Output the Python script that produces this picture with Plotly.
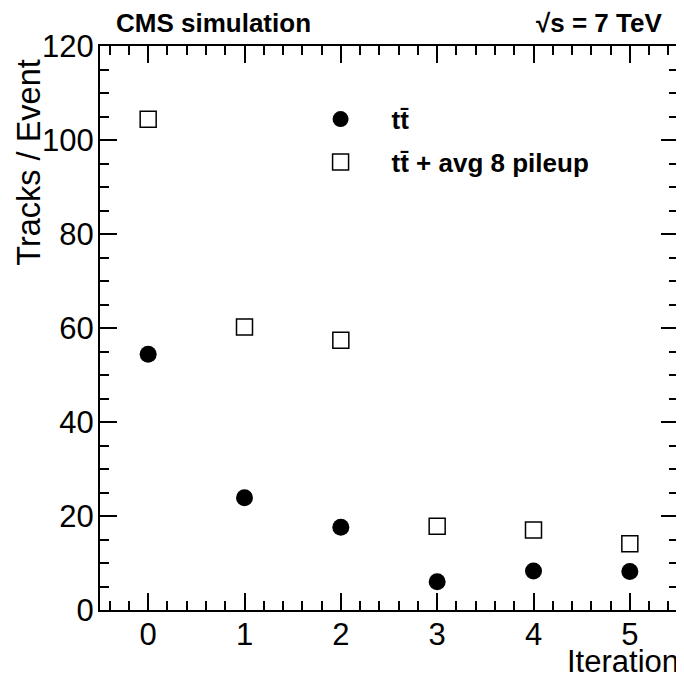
import plotly.graph_objects as go

iterations = [0, 1, 2, 3, 4, 5]
ttbar = [54.4, 23.9, 17.6, 6.0, 8.3, 8.2]
ttbar_pileup = [104.4, 60.2, 57.4, 17.8, 17.0, 14.1]

font_family = "Liberation Sans, Arial, sans-serif"

fig = go.Figure()
fig.add_trace(
    go.Scatter(
        x=iterations,
        y=ttbar,
        mode="markers",
        name="<b>tt\u0304</b>",
        marker=dict(symbol="circle", size=17, color="black"),
        legend="legend",
    )
)
fig.add_trace(
    go.Scatter(
        x=iterations,
        y=ttbar_pileup,
        mode="markers",
        name="<b>tt\u0304 + avg 8 pileup</b>",
        marker=dict(symbol="square-open", size=16, color="black", line=dict(width=1.5, color="#333")),
        legend="legend2",
    )
)

axis_common = dict(
    showline=True,
    linecolor="black",
    linewidth=2,
    mirror="allticks",
    ticks="inside",
    ticklen=17,
    tickwidth=1.5,
    tickcolor="black",
    showgrid=False,
    zeroline=False,
    tickfont=dict(family=font_family, size=31, color="black"),
)

fig.update_xaxes(
    range=[-0.5, 5.5],
    tick0=0,
    dtick=1,
    ticklabelstandoff=-4,
    minor=dict(dtick=0.2, ticks="inside", ticklen=9, tickcolor="black", tickwidth=1.5),
    **axis_common,
)
fig.update_yaxes(
    range=[0, 120],
    tick0=0,
    dtick=20,
    ticklabelstandoff=-2,
    minor=dict(dtick=5, ticks="inside", ticklen=9, tickcolor="black", tickwidth=1.5),
    **axis_common,
)

legend_common = dict(
    font=dict(family=font_family, size=26, color="black"),
    bgcolor="rgba(0,0,0,0)",
    itemwidth=92,
    xanchor="left",
    yanchor="middle",
)

# page body has an 8px margin, so the figure is 8px smaller and shifted
fig.update_layout(
    width=676,
    height=671,
    margin=dict(l=92, r=4, t=38, b=69),
    plot_bgcolor="white",
    paper_bgcolor="white",
    showlegend=True,
    legend=dict(x=0.328, y=(609.8 - 119) / 564, **legend_common),
    legend2=dict(x=0.328, y=(609.8 - 162) / 564, **legend_common),
    annotations=[
        dict(
            text="CMS simulation",
            xref="paper", yref="paper", x=0.0, y=1.0,
            xanchor="left", yanchor="bottom", xshift=14, yshift=6,
            showarrow=False,
            font=dict(family=font_family, size=26, color="black", weight="bold"),
        ),
        dict(
            text="\u221as = 7 TeV",
            xref="paper", yref="paper", x=1.0, y=1.0,
            xanchor="right", yanchor="bottom", xshift=-14, yshift=6,
            showarrow=False,
            font=dict(family=font_family, size=26, color="black", weight="bold"),
        ),
        dict(
            text="Iteration",
            xref="paper", yref="paper", x=1.0, y=0.0,
            xanchor="right", yanchor="middle", yshift=-51, xshift=3,
            showarrow=False,
            font=dict(family=font_family, size=31, color="black"),
        ),
        dict(
            text="Tracks / Event",
            xref="paper", yref="paper", x=0.0, y=(609.8 - 268) / 564,
            xanchor="center", yanchor="bottom", xshift=-71, textangle=-90,
            showarrow=False,
            font=dict(family=font_family, size=32.5, color="black"),
        ),
    ],
)

fig.write_html("out.html")
